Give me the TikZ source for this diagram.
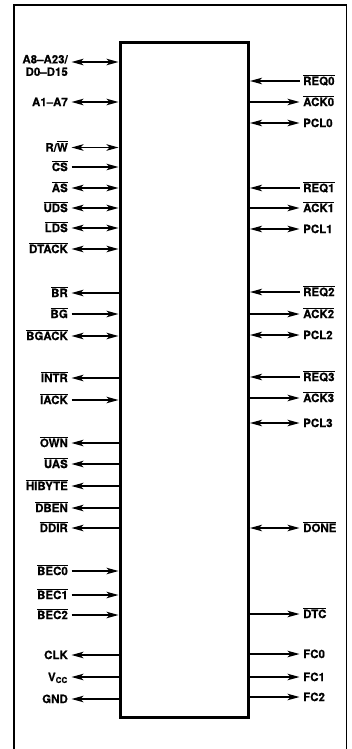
\documentclass[tikz,border=0pt]{standalone}
\usepackage{fontspec}
\setmainfont{TeX Gyre Heros}[FakeBold=0.6]
\usetikzlibrary{arrows.meta}
\newcommand\ob[1]{\leavevmode\vbox{\hrule height 0.9pt\kern 1.1pt\hbox{#1}}}
\newcommand\lpin[4]{%
  \node[lab,anchor=base east] (#1) at (68,#2+4.1) {#4};
  \coordinate (#1a) at (71.5,#2);
  \draw[pin,#3] (#1a) -- (#1a -| chip.west);
}
\newcommand\rpin[4]{%
  \node[lab,anchor=base west] (#1) at (303,#2+4.1) {#4};
  \coordinate (#1a) at (299.5,#2);
  \draw[pin,#3] (#1a -| chip.east) -- (#1a);
}
\begin{document}
\begin{tikzpicture}[x=1pt,y=-1pt,
  lab/.style={font=\bfseries\fontsize{11.5}{12.5}\selectfont,inner sep=0pt,text=black},
  pin/.style={line width=1.3pt},
  >={Stealth[length=12pt,width=6.5pt,inset=3pt]},
  frame/.style={line width=1.5pt},
  chipbox/.style={line width=3pt}]
\useasboundingbox (0,0) rectangle (351,749);
\draw[frame] (14,760) -- (14,5) -- (346.5,5) -- (346.5,760);
\path (118.5,40.7) coordinate (c1);
\node[chipbox,draw,inner sep=0pt,minimum width=128.5pt,minimum height=675.3pt,anchor=north west] (chip) at (c1) {};
% left pins
\node[lab,anchor=east,align=right] (A8) at (68,65.5) {A8–A23/\\D0–D15};
\coordinate (A8a) at (71.5,62);
\draw[pin,<->] (A8a) -- (A8a -| chip.west);
\lpin{A17}{102}{<->}{A1–A7}
\lpin{RW}{147.5}{<->}{R/\ob{W}}
\lpin{CS}{167}{->}{\ob{CS}}
\lpin{AS}{188}{<->}{\ob{AS}}
\lpin{UDS}{208}{<->}{\ob{UDS}}
\lpin{LDS}{228}{<->}{\ob{LDS}}
\lpin{DTACK}{249}{<->}{\ob{DTACK}}
\lpin{BR}{293}{<-}{\ob{BR}}
\lpin{BG}{314}{->}{\ob{BG}}
\lpin{BGACK}{336}{<->}{\ob{BGACK}}
\lpin{INTR}{378}{<-}{\ob{INTR}}
\lpin{IACK}{400}{->}{\ob{IACK}}
\lpin{OWN}{443}{<-}{\ob{OWN}}
\lpin{UAS}{464}{<-}{\ob{UAS}}
\lpin{HIBYTE}{486}{<-}{\ob{HIBYTE}}
\lpin{DBEN}{508}{<-}{\ob{DBEN}}
\lpin{DDIR}{528}{<-}{\ob{DDIR}}
\lpin{BECz}{571}{->}{\ob{BEC0}}
\lpin{BECa}{595}{->}{\ob{BEC1}}
\lpin{BECb}{615}{->}{\ob{BEC2}}
\lpin{CLK}{655}{<-}{CLK}
\lpin{VCC}{677}{<-}{V\textsubscript{CC}}
\lpin{GND}{699}{<-}{GND}
% right pins
\rpin{REQz}{81}{<-}{\ob{REQ0}}
\rpin{ACKz}{102}{->}{\ob{ACK0}}
\rpin{PCLz}{123}{<->}{PCL0}
\rpin{REQa}{188}{<-}{\ob{REQ1}}
\rpin{ACKa}{208}{->}{\ob{ACK1}}
\rpin{PCLa}{229}{<->}{PCL1}
\rpin{REQb}{292}{<-}{\ob{REQ2}}
\rpin{ACKb}{314}{->}{\ob{ACK2}}
\rpin{PCLb}{335}{<->}{PCL2}
\rpin{REQc}{377}{<-}{\ob{REQ3}}
\rpin{ACKc}{398}{->}{\ob{ACK3}}
\rpin{PCLc}{423}{<->}{PCL3}
\rpin{DONE}{528}{<->}{\ob{DONE}}
\rpin{DTC}{614}{->}{\ob{DTC}}
\rpin{FCz}{654}{->}{FC0}
\rpin{FCa}{677}{->}{FC1}
\rpin{FCb}{697}{->}{FC2}
\end{tikzpicture}
\end{document}
